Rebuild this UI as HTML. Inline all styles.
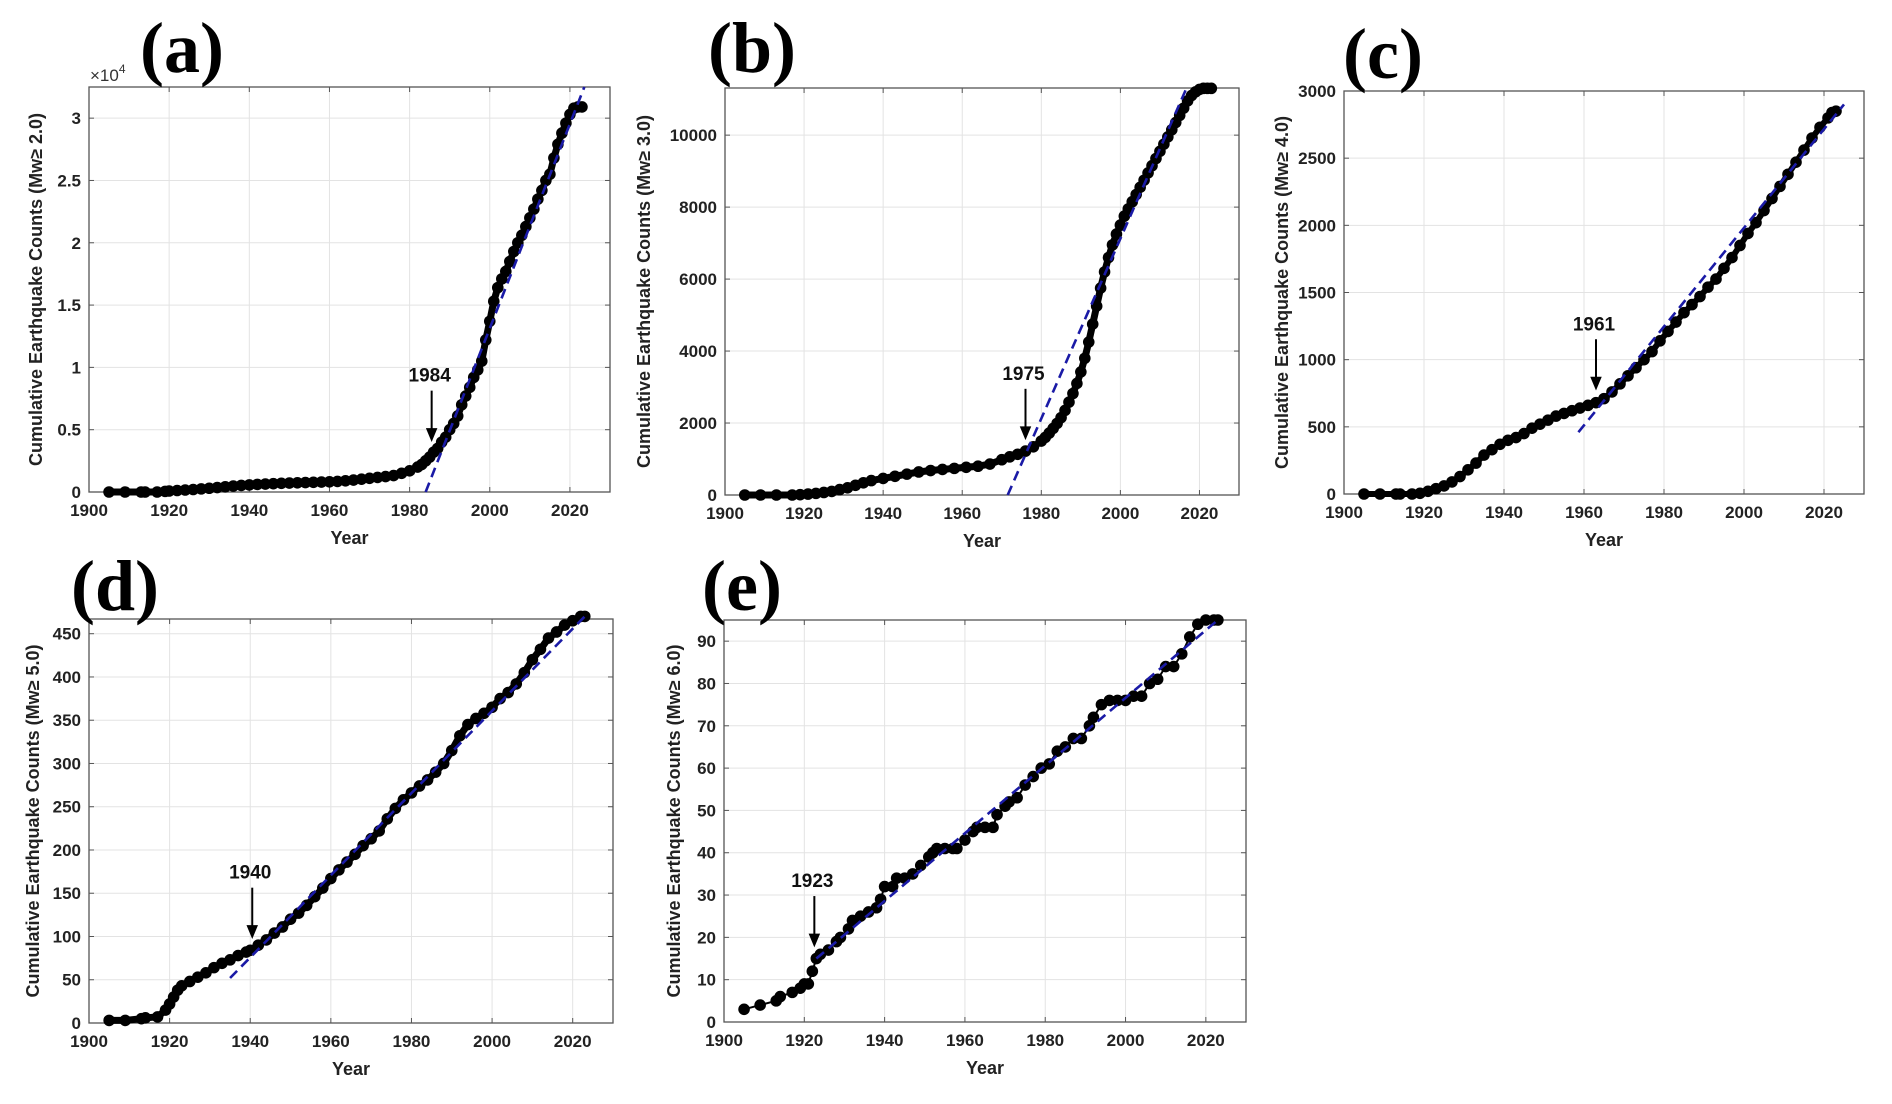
<!DOCTYPE html>
<html><head><meta charset="utf-8"><style>
html,body{margin:0;padding:0;background:#fff;}
svg{display:block;font-family:"Liberation Sans",Arial,sans-serif;}
</style></head><body>
<svg id="fig" width="1892" height="1104" viewBox="0 0 1892 1104" xmlns="http://www.w3.org/2000/svg"></svg>
<script>
// ---- data ----
const yearsA = [1905,1909,1913,1914,1917,1919,1920,1922,1924,1926,1928,1930,1932,1934,1936,1938,1940,1942,1944,1946,1948,1950,1952,1954,1956,1958,1960,1962,1964,1966,1968,1970,1972,1974,1976,1978,1980,1982,1983,1984,1985,1986,1987,1988,1989,1990,1991,1992,1993,1994,1995,1996,1997,1998,1999,2000,2001,2002,2003,2004,2005,2006,2007,2008,2009,2010,2011,2012,2013,2014,2015,2016,2017,2018,2019,2020,2021,2022,2023];
const countsA = [0,0,0,0,0,0.005,0.008,0.012,0.016,0.02,0.025,0.03,0.036,0.042,0.048,0.053,0.057,0.061,0.064,0.067,0.07,0.072,0.074,0.076,0.078,0.08,0.082,0.085,0.09,0.096,0.103,0.11,0.117,0.124,0.132,0.15,0.17,0.2,0.22,0.25,0.28,0.32,0.35,0.4,0.44,0.5,0.55,0.61,0.7,0.77,0.84,0.92,0.98,1.05,1.22,1.37,1.53,1.64,1.71,1.77,1.85,1.93,2.0,2.06,2.13,2.2,2.27,2.35,2.42,2.5,2.55,2.68,2.79,2.88,2.96,3.03,3.08,3.09,3.09];
const yearsB = [1905,1909,1913,1917,1919,1921,1923,1925,1927,1929,1931,1933,1935,1937,1940,1943,1946,1949,1952,1955,1958,1961,1964,1967,1970,1972,1974,1976,1978,1980,1981,1982,1983,1984,1985,1986,1987,1988,1989,1990,1991,1992,1993,1994,1995,1996,1997,1998,1999,2000,2001,2002,2003,2004,2005,2006,2007,2008,2009,2010,2011,2012,2013,2014,2015,2016,2017,2018,2019,2020,2021,2022,2023];
const countsB = [0,0,0,0,10,25,45,70,100,150,200,270,340,400,460,520,580,640,680,710,740,770,800,860,980,1060,1130,1220,1340,1500,1600,1720,1850,1990,2150,2350,2580,2820,3100,3420,3800,4250,4750,5250,5750,6200,6600,6950,7250,7500,7750,7950,8150,8350,8550,8750,8950,9150,9350,9550,9750,9950,10150,10350,10550,10750,10950,11100,11200,11270,11300,11300,11300];
const yearsC = [1905,1909,1913,1914,1917,1919,1921,1923,1925,1927,1929,1931,1933,1935,1937,1939,1941,1943,1945,1947,1949,1951,1953,1955,1957,1959,1961,1963,1965,1967,1969,1971,1973,1975,1977,1979,1981,1983,1985,1987,1989,1991,1993,1995,1997,1999,2001,2003,2005,2007,2009,2011,2013,2015,2017,2019,2021,2022,2023];
const countsC = [0,0,0,0,0,5,20,40,60,90,130,180,230,290,330,370,400,420,450,490,520,550,580,600,620,640,660,680,710,760,820,880,940,1000,1060,1140,1210,1280,1350,1410,1470,1540,1600,1680,1760,1850,1940,2020,2110,2200,2290,2380,2470,2560,2650,2730,2800,2840,2850];
const yearsD = [1905,1909,1913,1914,1917,1919,1920,1921,1922,1923,1925,1927,1929,1931,1933,1935,1937,1939,1940,1942,1944,1946,1948,1950,1952,1954,1956,1958,1960,1962,1964,1966,1968,1970,1972,1974,1976,1978,1980,1982,1984,1986,1988,1990,1992,1994,1996,1998,2000,2002,2004,2006,2008,2010,2012,2014,2016,2018,2020,2022,2023];
const countsD = [3,3,5,6,7,15,22,30,38,43,48,53,58,64,69,73,78,82,84,90,96,104,111,120,127,136,146,156,167,177,186,195,205,213,222,236,248,258,266,274,281,290,300,315,332,345,352,358,365,375,382,392,405,420,432,445,452,460,465,470,470];
const yearsE = [1905,1909,1913,1914,1917,1919,1920,1921,1922,1923,1924,1926,1928,1929,1931,1932,1934,1936,1938,1939,1940,1942,1943,1945,1947,1949,1951,1952,1953,1955,1957,1958,1960,1962,1963,1965,1967,1968,1970,1971,1973,1975,1977,1979,1981,1983,1985,1987,1989,1991,1992,1994,1996,1998,2000,2002,2004,2006,2008,2010,2012,2014,2016,2018,2020,2022,2023];
const countsE = [3,4,5,6,7,8,9,9,12,15,16,17,19,20,22,24,25,26,27,29,32,32,34,34,35,37,39,40,41,41,41,41,43,45,46,46,46,49,51,52,53,56,58,60,61,64,65,67,67,70,72,75,76,76,76,77,77,80,81,84,84,87,91,94,95,95,95];
const fitA = [[1984,0],[2023.6,3.25]];
const fitB = [[1971.5,0],[2016.7,11300]];
const fitC = [[1958.6,460],[2025,2900]];
const fitD = [[1935,52],[2023,470]];
const fitE = [[1923,15],[2023,95]];
const changeYears = [1985.5, 1976, 1963, 1940.5, 1922.5];
const changeLabels = ["1984","1975","1961","1940","1923"];
const changeTips = [0.38, 1450, 750, 94, 17];
const yTicksA = [0,0.5,1,1.5,2,2.5,3];
const yTickLabelsA = ["0","0.5","1","1.5","2","2.5","3"];
const yTicksB = [0,2000,4000,6000,8000,10000];
const yTicksC = [0,500,1000,1500,2000,2500,3000];
const yTicksD = [0,50,100,150,200,250,300,350,400,450];
const yTicksE = [0,10,20,30,40,50,60,70,80,90];
const xTicks = [1900,1920,1940,1960,1980,2000,2020];

// ---- layout ----
const panels = [
 {id:'a', L:89, R:610, T:87, B:492, ymax:3.25, yt:yTicksA, ytl:yTickLabelsA, xs:yearsA, ys:countsA, fit:fitA, mw:'2.0', ylx:36, letter:[182,72], exp:true, lw:7},
 {id:'b', L:725, R:1239, T:88, B:495, ymax:11310, yt:yTicksB, xs:yearsB, ys:countsB, fit:fitB, mw:'3.0', ylx:644, letter:[752,72], lw:7},
 {id:'c', L:1344, R:1864, T:91, B:494, ymax:3000, yt:yTicksC, xs:yearsC, ys:countsC, fit:fitC, mw:'4.0', ylx:1282, letter:[1383,78], lw:6},
 {id:'d', L:89, R:613, T:619, B:1023, ymax:467, yt:yTicksD, xs:yearsD, ys:countsD, fit:fitD, mw:'5.0', ylx:33, letter:[115,610], lw:7},
 {id:'e', L:724, R:1246, T:620, B:1022, ymax:95, yt:yTicksE, xs:yearsE, ys:countsE, fit:fitE, mw:'6.0', ylx:674, letter:[742,610], lw:2}
];
const NS='http://www.w3.org/2000/svg';
const svg=document.getElementById('fig');
function mk(tag, attrs, parent){const e=document.createElementNS(NS,tag);for(const k in attrs)e.setAttribute(k,attrs[k]);(parent||svg).appendChild(e);return e;}

panels.forEach((p,pi)=>{
  const g=mk('g',{});
  
  
  const sx=v=>p.L+(v-1900)/130*(p.R-p.L);
  const sy=v=>p.B-v/p.ymax*(p.B-p.T);
  xTicks.forEach(t=>{ if(t>1900){const l=mk('line',{x1:sx(t),x2:sx(t),y1:p.T,y2:p.B,stroke:'#e3e3e3','stroke-width':1},g);
    
    }});
  p.yt.forEach(t=>{ if(t>0){const l=mk('line',{x1:p.L,x2:p.R,y1:sy(t),y2:sy(t),stroke:'#e3e3e3','stroke-width':1},g);
    
    }});
  const box=mk('rect',{x:p.L,y:p.T,width:p.R-p.L,height:p.B-p.T,fill:'none',stroke:'#555','stroke-width':1.3},g);
  
  
  xTicks.forEach(t=>{
    mk('line',{x1:sx(t),x2:sx(t),y1:p.B,y2:p.B-5,stroke:'#555'},g);
    mk('line',{x1:sx(t),x2:sx(t),y1:p.T,y2:p.T+5,stroke:'#555'},g);
    const tx=mk('text',{x:sx(t),y:p.B+24,'text-anchor':'middle','font-size':17,'font-weight':'bold',fill:'#222'},g);
    tx.textContent=t;
    
    
  });
  p.yt.forEach((t,i)=>{
    mk('line',{x1:p.L,x2:p.L+5,y1:sy(t),y2:sy(t),stroke:'#555'},g);
    mk('line',{x1:p.R,x2:p.R-5,y1:sy(t),y2:sy(t),stroke:'#555'},g);
    const tx=mk('text',{x:p.L-8,y:sy(t)+6,'text-anchor':'end','font-size':17,'font-weight':'bold',fill:'#222'},g);
    tx.textContent=p.ytl?p.ytl[i]:t;
    
    
  });
  const xt=mk('text',{x:(p.L+p.R)/2,y:p.B+52,'text-anchor':'middle','font-size':18,'font-weight':'bold',fill:'#222'},g);
  xt.textContent='Year';
  
  
  const yc=(p.T+p.B)/2;
  const yl=mk('text',{x:p.ylx,y:yc,'text-anchor':'middle','font-size':18,'font-weight':'bold',fill:'#222',transform:`rotate(-90 ${p.ylx} ${yc})`,dy:6},g);
  yl.textContent='Cumulative Earthquake Counts (Mw\u2265 '+p.mw+')';
  
  
  if(p.exp){
    const ex=mk('text',{x:p.L+1,y:p.T-6,'font-size':17,fill:'#333'},g);
    ex.innerHTML='\u00d710<tspan dy="-8" font-size="12">4</tspan>';
    
    
  }
  const lt=mk('text',{x:p.letter[0],y:p.letter[1],'text-anchor':'middle','font-size':72,'font-weight':'bold','font-family':'"Liberation Serif",serif',fill:'#000'},g);
  lt.textContent='('+p.id+')';
  
  
  const pts=p.xs.map((x,i)=>sx(x)+','+sy(p.ys[i])).join(' ');
  const pl=mk('polyline',{points:pts,fill:'none',stroke:'#000','stroke-width':p.lw,'stroke-linejoin':'round'},g);
  
  
  p.xs.forEach((x,i)=>{
    const c=mk('circle',{cx:sx(x),cy:sy(p.ys[i]),r:5.8,fill:'#000'},g);
    
    
  });
  const f=mk('line',{x1:sx(p.fit[0][0]),y1:sy(p.fit[0][1]),x2:sx(p.fit[1][0]),y2:sy(p.fit[1][1]),stroke:'#1a1aa6','stroke-width':2.6,'stroke-dasharray':'10,6'},g);
  
  
  const ax=sx(changeYears[pi]), tip=sy(changeTips[pi])-4, top=tip-50;
  const al=mk('line',{x1:ax,y1:top,x2:ax,y2:tip-8,stroke:'#000','stroke-width':2},g);
  
  
  const ah=mk('path',{d:`M${ax-5},${tip-12} L${ax},${tip} L${ax+5},${tip-12} Z`,fill:'#000',stroke:'#000','stroke-width':1},g);
  
  
  const at=mk('text',{x:ax-2,y:top-9,'text-anchor':'middle','font-size':19,'font-weight':'bold',fill:'#111'},g);
  at.textContent=changeLabels[pi];
  
  
});
</script>
</body></html>
